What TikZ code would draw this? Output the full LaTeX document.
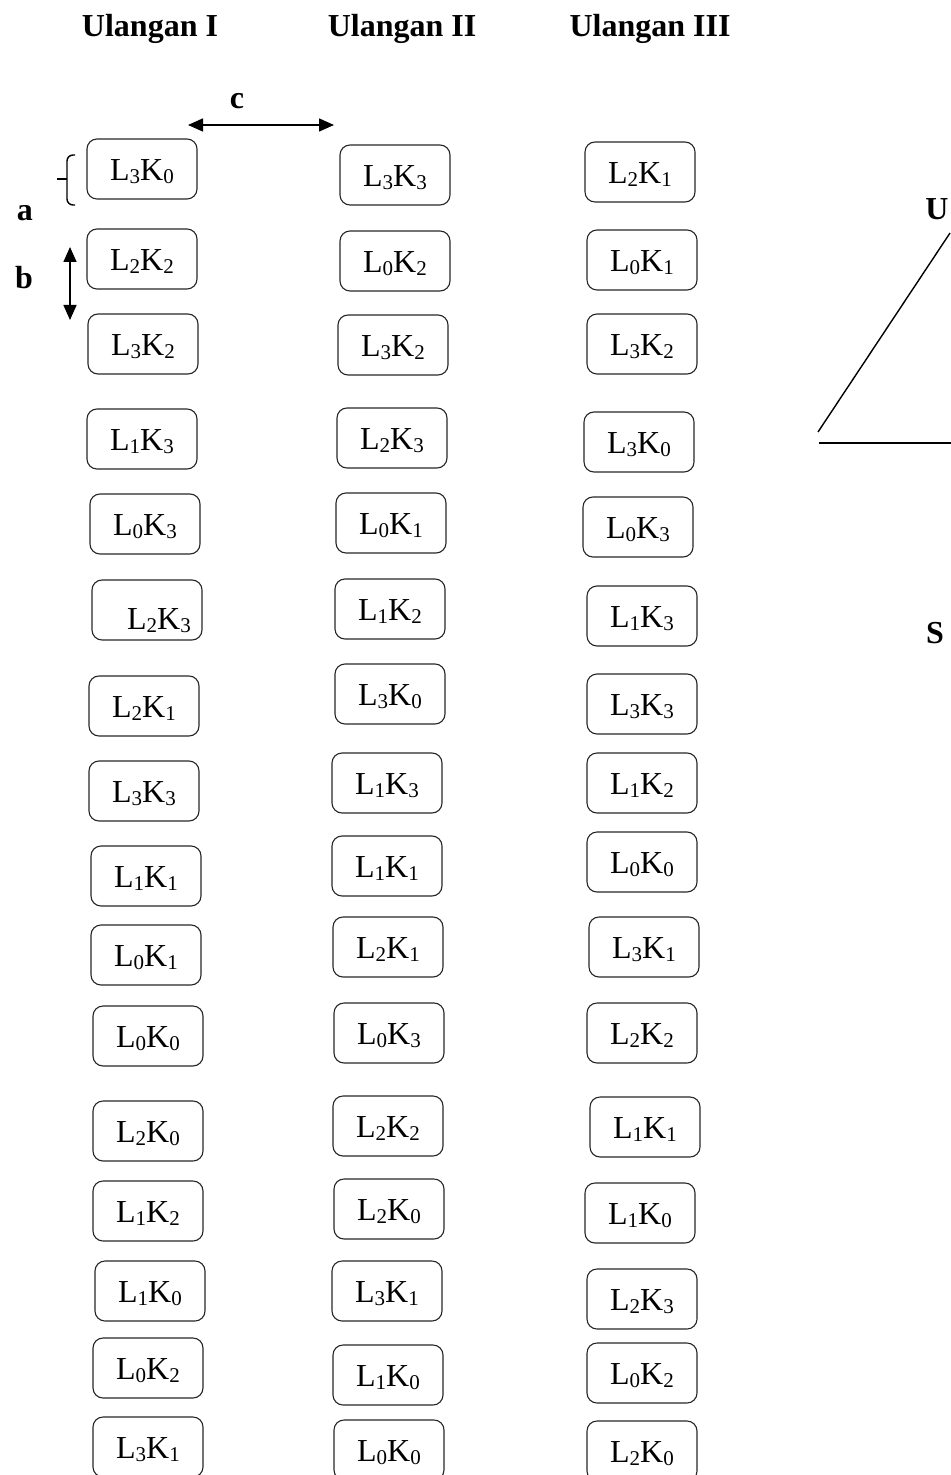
\documentclass[tikz,border=0pt]{standalone}
\usepackage{fontspec}
\setmainfont{Liberation Serif}
\usetikzlibrary{arrows.meta,positioning}

% plot code: L_i K_j
\newcommand{\LK}[2]{L\raisebox{-1.5pt}{\fontsize{10.5}{12}\selectfont #1}K\raisebox{-1.5pt}{\fontsize{10.5}{12}\selectfont #2}}

\begin{document}
\begin{tikzpicture}[
  x=0.5pt, y=-0.5pt,
  cell/.style={draw=black!85, rounded corners=5pt, line width=0.55pt, minimum width=55pt, minimum height=30pt, inner sep=0pt, text height=12.5pt, text depth=1pt, font=\fontsize{16}{19}\selectfont},
  hdr/.style={font=\fontsize{16}{19}\selectfont\bfseries, inner sep=0pt},
  lbl/.style={font=\fontsize{16}{19}\selectfont\bfseries, inner sep=0pt},
  arrow/.style={{Triangle[length=7.5pt,width=6.5pt]}-{Triangle[length=7.5pt,width=6.5pt]}, line width=0.75pt},
  thin/.style={line width=0.7pt}
]
\useasboundingbox (0,0) rectangle (951,1475);
\clip (0,0) rectangle (951,1475);

% headers
\node[hdr] (h1) at (150,29) {Ulangan I};
\node[hdr] (h2) at (402,29) {Ulangan II};
\node[hdr] (h3) at (650,29) {Ulangan III};

% Ulangan I
\node[cell] (a1)  at (142,169)  {\LK30};
\node[cell] (a2)  at (142,259)  {\LK22};
\node[cell] (a3)  at (143,344)  {\LK32};
\node[cell] (a4)  at (142,439)  {\LK13};
\node[cell] (a5)  at (145,524)  {\LK03};
\node[cell] (a6)  at (147,610)  {\hspace*{12pt}\raisebox{-4pt}{\LK23}};
\node[cell] (a7)  at (144,706)  {\LK21};
\node[cell] (a8)  at (144,791)  {\LK33};
\node[cell] (a9)  at (146,876)  {\LK11};
\node[cell] (a10) at (146,955)  {\LK01};
\node[cell] (a11) at (148,1036) {\LK00};
\node[cell] (a12) at (148,1131) {\LK20};
\node[cell] (a13) at (148,1211) {\LK12};
\node[cell] (a14) at (150,1291) {\LK10};
\node[cell] (a15) at (148,1368) {\LK02};
\node[cell] (a16) at (148,1447) {\LK31};

% Ulangan II
\node[cell] (b1)  at (395,175)  {\LK33};
\node[cell] (b2)  at (395,261)  {\LK02};
\node[cell] (b3)  at (393,345)  {\LK32};
\node[cell] (b4)  at (392,438)  {\LK23};
\node[cell] (b5)  at (391,523)  {\LK01};
\node[cell] (b6)  at (390,609)  {\LK12};
\node[cell] (b7)  at (390,694)  {\LK30};
\node[cell] (b8)  at (387,783)  {\LK13};
\node[cell] (b9)  at (387,866)  {\LK11};
\node[cell] (b10) at (388,947)  {\LK21};
\node[cell] (b11) at (389,1033) {\LK03};
\node[cell] (b12) at (388,1126) {\LK22};
\node[cell] (b13) at (389,1209) {\LK20};
\node[cell] (b14) at (387,1291) {\LK31};
\node[cell] (b15) at (388,1375) {\LK10};
\node[cell] (b16) at (389,1450) {\LK00};

% Ulangan III
\node[cell] (c1)  at (640,172)  {\LK21};
\node[cell] (c2)  at (642,260)  {\LK01};
\node[cell] (c3)  at (642,344)  {\LK32};
\node[cell] (c4)  at (639,442)  {\LK30};
\node[cell] (c5)  at (638,527)  {\LK03};
\node[cell] (c6)  at (642,616)  {\LK13};
\node[cell] (c7)  at (642,704)  {\LK33};
\node[cell] (c8)  at (642,783)  {\LK12};
\node[cell] (c9)  at (642,862)  {\LK00};
\node[cell] (c10) at (644,947)  {\LK31};
\node[cell] (c11) at (642,1033) {\LK22};
\node[cell] (c12) at (645,1127) {\LK11};
\node[cell] (c13) at (640,1213) {\LK10};
\node[cell] (c14) at (642,1299) {\LK23};
\node[cell] (c15) at (642,1373) {\LK02};
\node[cell] (c16) at (642,1451) {\LK20};

% spacing marks
\node[lbl] (la) at (25,213) {a};
\node[lbl] (lb) at (24,278) {b};
\node[lbl] (lc) at (237,101) {c};
\coordinate (cL) at (188,125);
\coordinate (cR) at (334,125);
\draw[arrow] (cL) -- (cR);
\coordinate (bT) at (70,247);
\coordinate (bB) at (70,320);
\draw[arrow] (bT) -- (bB);
\draw[thin, rounded corners=3pt] (75,155) -- (67,155) -- (67,205) -- (75,205);
\draw[thin] (67,179) -- (57,179);

% compass corner
\node[lbl] (lu) at (937,209) {U};
\node[lbl] (ls) at (935,633) {S};
\coordinate (uTop) at (950,233);
\coordinate (uBot) at (818,432);
\coordinate (sL) at (819,443);
\coordinate (sR) at (960,443);
\draw[thin] (uTop) -- (uBot);
\draw[line width=0.9pt] (sL) -- (sR);
\end{tikzpicture}
\end{document}
